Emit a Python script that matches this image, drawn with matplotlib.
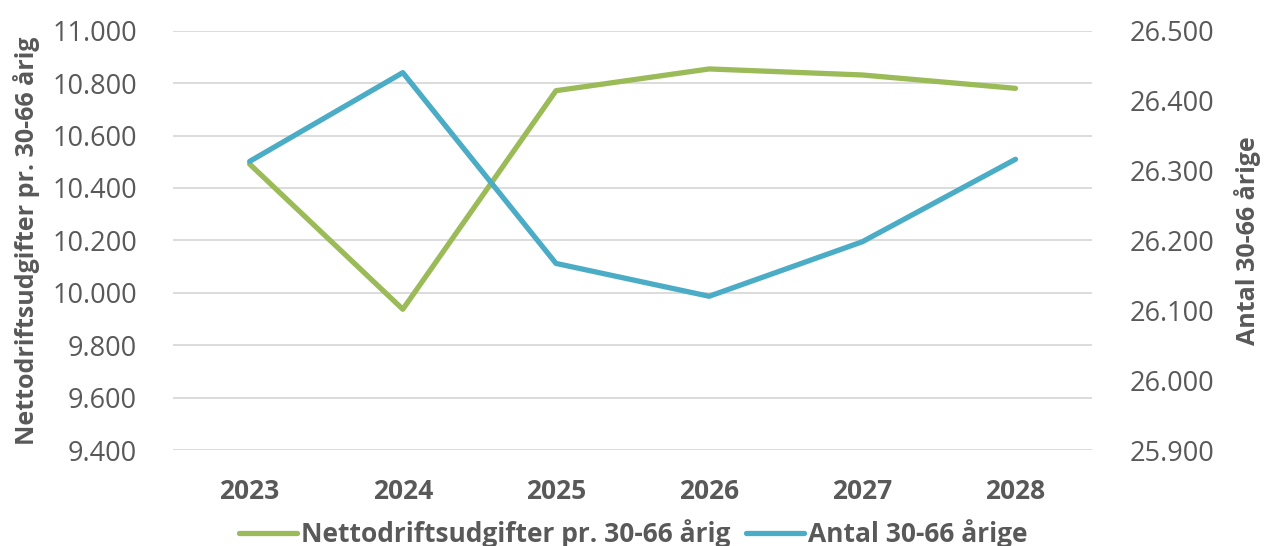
import matplotlib.pyplot as plt
from matplotlib.ticker import FuncFormatter, MultipleLocator

plt.rcParams['font.family'] = ['Open Sans', 'DejaVu Sans']

years = ['2023', '2024', '2025', '2026', '2027', '2028']
netto = [10491, 9937, 10771, 10854, 10831, 10780]
antal = [26313, 26440, 26167, 26120, 26198, 26316]

green = '#9BBB59'
blue = '#4BACC6'
grey = '#595959'


def dk(v, pos):
    return f'{v:,.0f}'.replace(',', '.')


fig = plt.figure(figsize=(12.66, 5.46), dpi=100)
ax = fig.add_axes([0.1367, 0.1758, 0.7259, 0.768])
ax2 = ax.twinx()

x = range(len(years))
l1, = ax.plot(x, netto, color=green, linewidth=3.8, solid_capstyle='round',
              label='Nettodriftsudgifter pr. 30-66 årig')
l2, = ax2.plot(x, antal, color=blue, linewidth=3.8, solid_capstyle='round',
               label='Antal 30-66 årige')

ax.set_xlim(-0.5, len(years) - 0.5)
ax.set_ylim(9400, 11000)
ax2.set_ylim(25900, 26500)
ax.yaxis.set_major_locator(MultipleLocator(200))
ax2.yaxis.set_major_locator(MultipleLocator(100))
ax.yaxis.set_major_formatter(FuncFormatter(dk))
ax2.yaxis.set_major_formatter(FuncFormatter(dk))

ax.set_xticks(list(x))
ax.set_xticklabels(years, fontsize=19, fontweight='bold', color=grey)
ax.grid(axis='y', color='#D9D9D9', linewidth=1.3)
ax.set_axisbelow(True)

for a in (ax, ax2):
    for s in a.spines.values():
        s.set_visible(False)
    a.tick_params(length=0)

ax.tick_params(axis='y', labelsize=19.5, labelcolor=grey, pad=26)
ax2.tick_params(axis='y', labelsize=19.5, labelcolor=grey, pad=27)
ax.tick_params(axis='x', pad=20)

ax.set_ylabel('Nettodriftsudgifter pr. 30-66 årig', fontsize=18,
              fontweight='bold', color=grey, labelpad=9)
ax2.set_ylabel('Antal 30-66 årige', fontsize=18, fontweight='bold',
               color=grey, labelpad=14)

fig.legend(handles=[l1, l2], loc='center', bbox_to_anchor=(0.5, 0.022),
           ncol=2, frameon=False, handlelength=2.2,
           columnspacing=0.6, handletextpad=0.15,
           prop={'weight': 'bold', 'size': 19})
for t in fig.legends[0].get_texts():
    t.set_color(grey)

fig.savefig('out.png', dpi=100)
